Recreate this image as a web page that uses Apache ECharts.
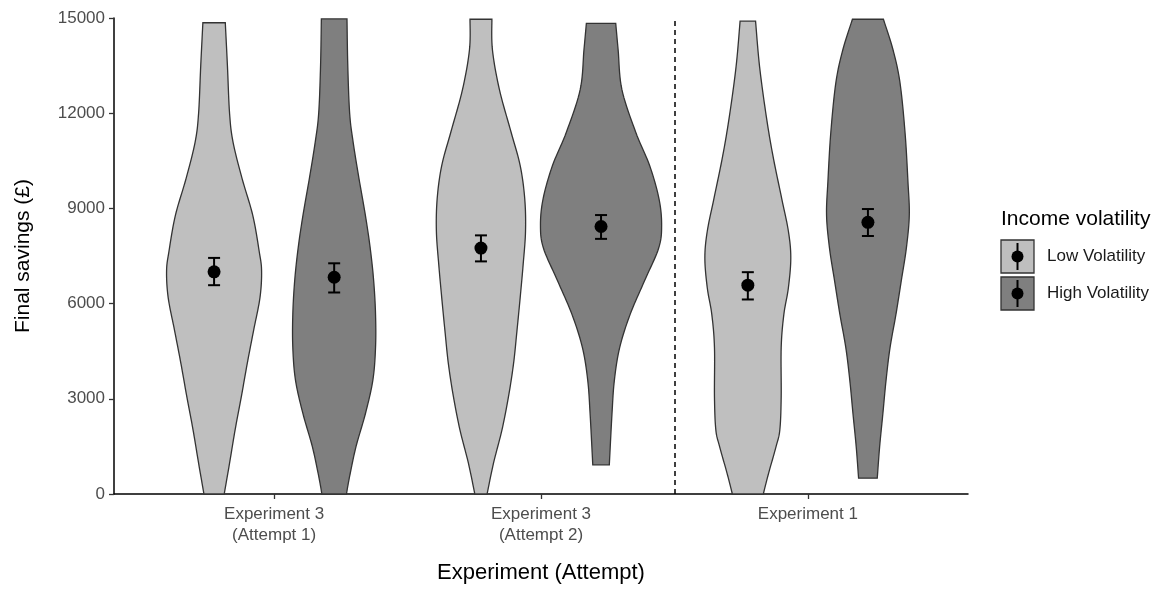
<!DOCTYPE html>
<html>
<head>
<meta charset="utf-8">
<script src="https://cdn.jsdelivr.net/npm/echarts@6/dist/echarts.min.js"></script>
<style>
html,body{margin:0;padding:0;background:#fff;}
#chart{width:1164px;height:589px;}
</style>
</head>
<body>
<div id="chart"></div>
<script>
// ---------- DATA ----------
const categories = ['Experiment 3\n(Attempt 1)', 'Experiment 3\n(Attempt 2)', 'Experiment 1'];
const groups = ['Low Volatility', 'High Volatility'];
const yTicks = [0, 3000, 6000, 9000, 12000, 15000];

// means and error bars (per category)
const lowMean  = [7000, 7750, 6580];
const lowLower = [6580, 7330, 6130];
const lowUpper = [7440, 8150, 6990];
const highMean  = [6830, 8430, 8560];
const highLower = [6350, 8040, 8130];
const highUpper = [7270, 8790, 8980];

// violin outlines: savings values and half-widths (x-axis units)
const e3a1LowY  = [0, 970, 2030, 3060, 4100, 5150, 6190, 7030, 7650, 8780, 9940, 11090, 12000, 13500, 14850];
const e3a1LowW  = [0.038, 0.058, 0.079, 0.102, 0.124, 0.148, 0.172, 0.178, 0.169, 0.145, 0.105, 0.071, 0.058, 0.050, 0.042];
const e3a1HighY = [0, 560, 1500, 2530, 3590, 4620, 5660, 6720, 7750, 8780, 9940, 11090, 12000, 13500, 14970];
const e3a1HighW = [0.046, 0.058, 0.082, 0.117, 0.145, 0.155, 0.155, 0.148, 0.135, 0.117, 0.093, 0.071, 0.058, 0.051, 0.048];
const e3a2LowY  = [0, 970, 2030, 3060, 4100, 5150, 6190, 7220, 8280, 9310, 10350, 11400, 12750, 14000, 14960];
const e3a2LowW  = [0.023, 0.047, 0.079, 0.103, 0.122, 0.135, 0.147, 0.158, 0.167, 0.164, 0.147, 0.113, 0.069, 0.043, 0.041];
const e3a2HighY = [920, 2530, 3590, 4620, 5660, 6720, 7750, 8470, 9310, 10350, 11400, 12750, 14000, 14830];
const e3a2HighW = [0.031, 0.041, 0.050, 0.070, 0.109, 0.163, 0.216, 0.227, 0.217, 0.182, 0.130, 0.078, 0.064, 0.055];
const e1LowY    = [0, 660, 1500, 2030, 3060, 4620, 5660, 6500, 7440, 8280, 9310, 10660, 11910, 13470, 14900];
const e1LowW    = [0.058, 0.078, 0.106, 0.120, 0.125, 0.125, 0.135, 0.152, 0.161, 0.152, 0.127, 0.094, 0.069, 0.044, 0.029];
const e1HighY   = [500, 1500, 2530, 3590, 4620, 5660, 6720, 7750, 8780, 9840, 11400, 12970, 14000, 14960];
const e1HighW   = [0.035, 0.044, 0.056, 0.068, 0.083, 0.105, 0.125, 0.144, 0.155, 0.150, 0.139, 0.120, 0.094, 0.058];

const lowViolins  = [[e3a1LowY, e3a1LowW], [e3a2LowY, e3a2LowW], [e1LowY, e1LowW]];
const highViolins = [[e3a1HighY, e3a1HighW], [e3a2HighY, e3a2HighW], [e1HighY, e1HighW]];

// ---------- STYLE / LAYOUT ----------
const DODGE = 0.225;
const colors = ['#bfbfbf', '#7f7f7f'];
const outline = '#333333';

function catPos(i, g) { return (i + 1) + (g === 0 ? -DODGE : DODGE); }

function catmull(pts, steps) {
  const out = [];
  for (let i = 0; i < pts.length - 1; i++) {
    const p0 = pts[i - 1] || pts[i], p1 = pts[i], p2 = pts[i + 1], p3 = pts[i + 2] || pts[i + 1];
    for (let s = 0; s < steps; s++) {
      const t = s / steps, t2 = t * t, t3 = t2 * t;
      const f = (a, b, c, d) => 0.5 * ((2 * b) + (-a + c) * t + (2 * a - 5 * b + 4 * c - d) * t2 + (-a + 3 * b - 3 * c + d) * t3);
      out.push([f(p0[0], p1[0], p2[0], p3[0]), f(p0[1], p1[1], p2[1], p3[1])]);
    }
  }
  out.push(pts[pts.length - 1]);
  return out;
}

function violinRender(list, g) {
  return function (params, api) {
    const idx = params.dataIndex;
    const ys = list[idx][0], ws = list[idx][1];
    const xc = api.value(0);
    const right = ys.map((y, k) => api.coord([xc + ws[k], y]));
    const left = ys.map((y, k) => api.coord([xc - ws[k], y]));
    const r = catmull(right, 10);
    const l = catmull(left, 10).reverse();
    return {
      type: 'polygon',
      shape: { points: r.concat(l) },
      style: { fill: colors[g], stroke: outline, lineWidth: 1.3 }
    };
  };
}

function errRender(params, api) {
  const x = api.value(0);
  const lo = api.coord([x, api.value(1)]);
  const hi = api.coord([x, api.value(2)]);
  const hw = 6;
  const st = { stroke: '#000', lineWidth: 2 };
  return {
    type: 'group',
    children: [
      { type: 'line', shape: { x1: lo[0], y1: lo[1], x2: hi[0], y2: hi[1] }, style: st },
      { type: 'line', shape: { x1: lo[0] - hw, y1: lo[1], x2: lo[0] + hw, y2: lo[1] }, style: st },
      { type: 'line', shape: { x1: hi[0] - hw, y1: hi[1], x2: hi[0] + hw, y2: hi[1] }, style: st }
    ]
  };
}

const lowViolinData = categories.map((c, i) => [catPos(i, 0)]);
const highViolinData = categories.map((c, i) => [catPos(i, 1)]);
const lowErr = categories.map((c, i) => [catPos(i, 0), lowLower[i], lowUpper[i]]);
const highErr = categories.map((c, i) => [catPos(i, 1), highLower[i], highUpper[i]]);
const lowPts = categories.map((c, i) => [catPos(i, 0), lowMean[i]]);
const highPts = categories.map((c, i) => [catPos(i, 1), highMean[i]]);

const chart = echarts.init(document.getElementById('chart'), null, { renderer: 'canvas' });

const legendX = 1001, legendY = 240, keyH = 35;
function legendKey(g) {
  const top = legendY + g * (keyH + 2);
  return [
    { type: 'rect', shape: { x: legendX, y: top, width: 33, height: keyH - 2 }, style: { fill: colors[g], stroke: outline, lineWidth: 1.3 } },
    { type: 'line', shape: { x1: legendX + 16.5, y1: top + 3, x2: legendX + 16.5, y2: top + keyH - 5 }, style: { stroke: '#000', lineWidth: 2 } },
    { type: 'circle', shape: { cx: legendX + 16.5, cy: top + (keyH - 2) / 2, r: 6 }, style: { fill: '#000' } },
    { type: 'text', style: { x: legendX + 46, y: top + (keyH - 2) / 2, text: groups[g], fill: '#1a1a1a', fontSize: 17, fontFamily: 'Liberation Sans, Arial, sans-serif', verticalAlign: 'middle' } }
  ];
}

const option = {
  animation: false,
  backgroundColor: '#fff',
  grid: { left: 114, right: 196, top: 18, bottom: 91 },
  textStyle: { fontFamily: 'Liberation Sans, Arial, sans-serif' },
  xAxis: {
    type: 'value', min: 0.4, max: 3.6,
    name: 'Experiment (Attempt)', nameLocation: 'middle', nameGap: 68,
    nameTextStyle: { fontSize: 22, color: '#000' },
    axisLine: { show: true, onZero: false, lineStyle: { color: '#000', width: 1.5 } },
    axisTick: { show: true, length: 5, customValues: [1, 2, 3], lineStyle: { color: '#333', width: 1.3 } },
    axisLabel: { customValues: [1, 2, 3], formatter: v => categories[Math.round(v) - 1], fontSize: 17, lineHeight: 21, color: '#4d4d4d', margin: 10 },
    splitLine: { show: false }
  },
  yAxis: {
    type: 'value', min: 0, max: 15000, interval: 3000,
    name: 'Final savings (£)', nameLocation: 'middle', nameGap: 80, nameRotate: 90,
    nameTextStyle: { fontSize: 21, color: '#000' },
    axisLine: { show: true, lineStyle: { color: '#000', width: 1.5 } },
    axisTick: { show: true, length: 5, lineStyle: { color: '#333', width: 1.3 } },
    axisLabel: { fontSize: 17, color: '#4d4d4d', margin: 9, formatter: v => yTicks.indexOf(v) >= 0 ? String(v) : '' },
    splitLine: { show: false }
  },
  series: [
    { type: 'custom', name: groups[0], renderItem: violinRender(lowViolins, 0), data: lowViolinData, z: 2, clip: false },
    { type: 'custom', name: groups[1], renderItem: violinRender(highViolins, 1), data: highViolinData, z: 2, clip: false },
    { type: 'custom', renderItem: errRender, data: lowErr, z: 3 },
    { type: 'custom', renderItem: errRender, data: highErr, z: 3 },
    { type: 'scatter', data: lowPts, symbol: 'circle', symbolSize: 13, itemStyle: { color: '#000', opacity: 1 }, z: 4 },
    { type: 'scatter', data: highPts, symbol: 'circle', symbolSize: 13, itemStyle: { color: '#000', opacity: 1 }, z: 4,
      markLine: {
        silent: true, symbol: 'none', label: { show: false },
        lineStyle: { color: '#000', type: [5, 4], width: 1.5 },
        data: [[{ coord: [2.5, 0] }, { coord: [2.5, 15000] }]]
      }
    }
  ],
  graphic: [
    { type: 'text', style: { x: legendX, y: 219, text: 'Income volatility', fill: '#000', fontSize: 21, fontFamily: 'Liberation Sans, Arial, sans-serif', verticalAlign: 'middle' } }
  ].concat(legendKey(0), legendKey(1))
};
chart.setOption(option);
</script>
</body>
</html>
